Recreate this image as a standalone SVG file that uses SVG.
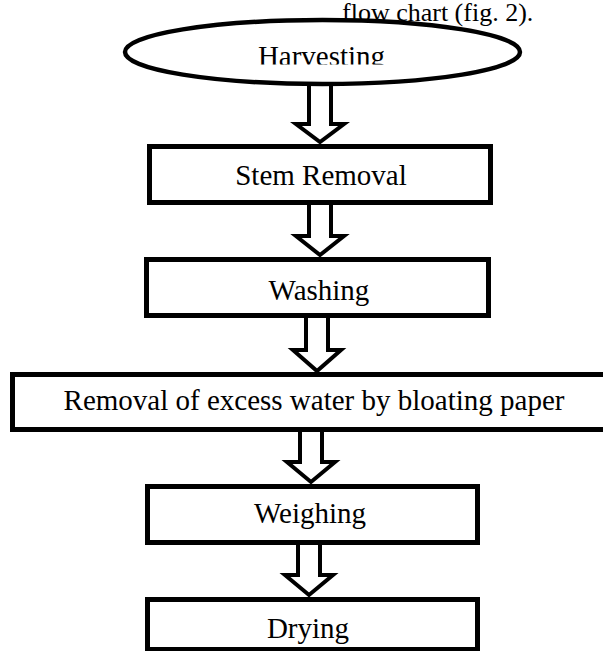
<svg xmlns="http://www.w3.org/2000/svg" width="603" height="651" viewBox="0 0 603 651">
<style>
.box{fill:#fff;stroke:#000;stroke-width:5}
.oval{fill:#fff;stroke:#000;stroke-width:4.5}
.arr{fill:#fff;stroke:#000;stroke-width:4;stroke-linejoin:miter}
.lbl{font-size:29px;fill:#000;text-anchor:middle}
.cap{font-size:26px;fill:#000}
</style>
<defs>
<clipPath id="clipH"><rect x="0" y="0" width="603" height="64.5"/></clipPath>
</defs>
<rect width="603" height="651" fill="#fff"/>
<g id="connectors">
<polygon class="arr" points="309,80 331,80 331,124 344,124 320,142 296,124 309,124"/>
<polygon class="arr" points="309,200 331,200 331,236 344,236 320,255 296,236 309,236"/>
<polygon class="arr" points="306,313 328,313 328,350 341,350 317,371 293,350 306,350"/>
<polygon class="arr" points="300,427 322,427 322,462 335,462 311,482 287,462 300,462"/>
<polygon class="arr" points="298,540 320,540 320,575 333,575 309,595 285,575 298,575"/>
</g>
<g id="harvesting">
<ellipse class="oval" cx="322.5" cy="52" rx="197.5" ry="32"/>
<text class="lbl" font-family="Liberation Serif, DejaVu Serif, serif" x="321.5" y="66" clip-path="url(#clipH)">Harvesting</text>
</g>
<g id="stem-removal">
<rect class="box" x="149.5" y="146.5" width="341" height="56"/>
<text class="lbl" font-family="Liberation Serif, DejaVu Serif, serif" x="321" y="185">Stem Removal</text>
</g>
<g id="washing">
<rect class="box" x="146.5" y="259.5" width="342" height="56"/>
<text class="lbl" font-family="Liberation Serif, DejaVu Serif, serif" x="319" y="300">Washing</text>
</g>
<g id="removal">
<rect class="box" x="12.5" y="374.5" width="600" height="55"/>
<text class="lbl" font-family="Liberation Serif, DejaVu Serif, serif" x="314" y="410">Removal of excess water by bloating paper</text>
</g>
<g id="weighing">
<rect class="box" x="147.5" y="486.5" width="330" height="56"/>
<text class="lbl" font-family="Liberation Serif, DejaVu Serif, serif" x="310" y="523">Weighing</text>
</g>
<g id="drying">
<rect class="box" x="147.5" y="599.5" width="330" height="50"/>
<text class="lbl" font-family="Liberation Serif, DejaVu Serif, serif" x="308" y="638">Drying</text>
</g>
<text class="cap" font-family="Liberation Serif, DejaVu Serif, serif" x="342" y="21">flow chart (fig. 2).</text>
</svg>
